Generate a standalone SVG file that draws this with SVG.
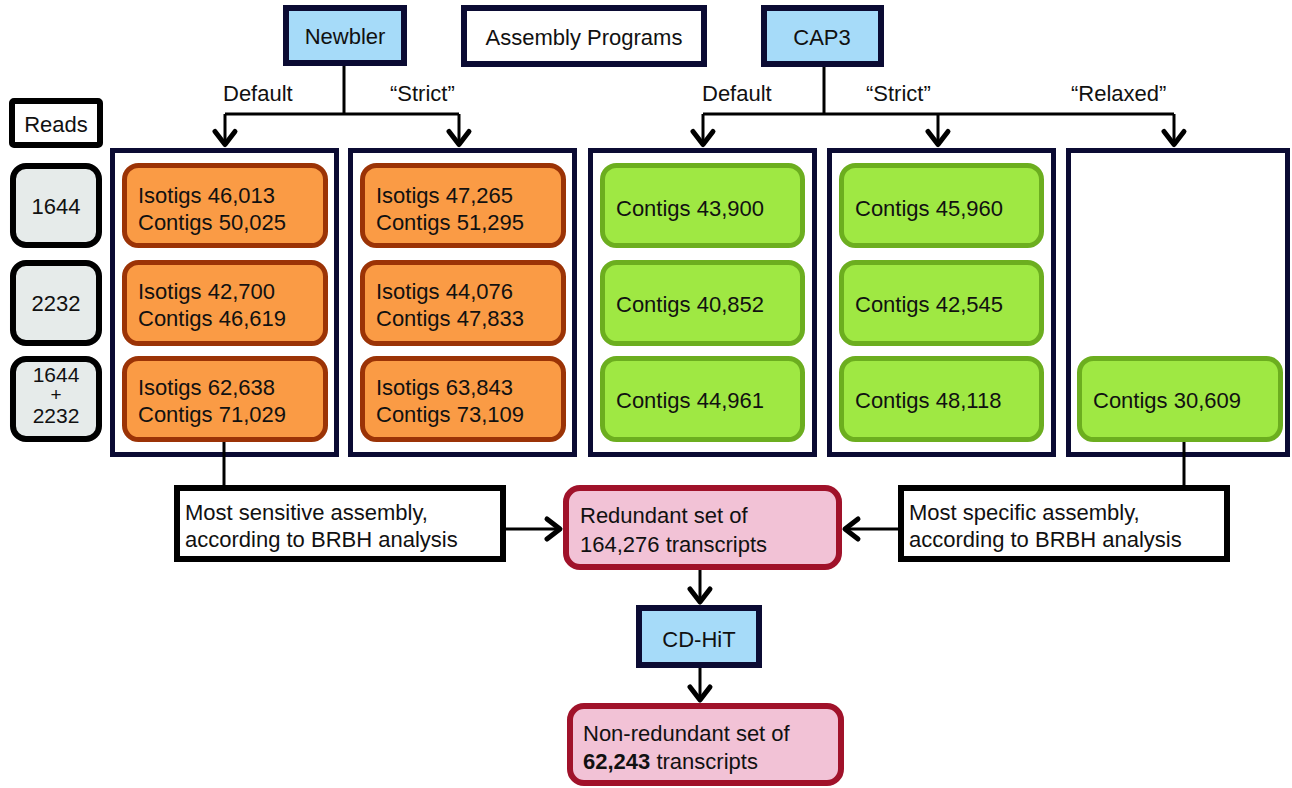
<svg xmlns="http://www.w3.org/2000/svg" width="1292" height="788" viewBox="0 0 1292 788">
<style>
text{font-family:"Liberation Sans",Arial,sans-serif;font-size:22px;fill:#111}
.prog{fill:#a6dbf9;stroke:#0b0b33;stroke-width:6}
.plain{fill:#fff;stroke:#0b0b33;stroke-width:6}
.lbl{fill:#fff;stroke:#000;stroke-width:6}
.read{fill:#e6ebea;stroke:#000;stroke-width:6}
.col{fill:#fff;stroke:#0b0b33;stroke-width:5}
.or{fill:#fa9b45;stroke:#9b3306;stroke-width:5}
.gr{fill:#9fe843;stroke:#6cae1f;stroke-width:5}
.pk{fill:#f2c2d6;stroke:#a0122a;stroke-width:6}
.c{text-anchor:middle}
.conn{fill:none;stroke:#000;stroke-width:3}
</style>
<defs>
<marker id="ah" viewBox="-18 -14 22 28" refX="0" refY="0" markerWidth="22" markerHeight="28" markerUnits="userSpaceOnUse" orient="auto">
<path d="M-13,-10 L0,0 L-13,10" fill="none" stroke="#000" stroke-width="5" stroke-linecap="round" stroke-linejoin="round"/>
</marker>
</defs>

<g id="newbler"><rect class="prog" x="286" y="8" width="118" height="55"/><text class="c" x="345" y="44">Newbler</text></g>
<g id="assembly-programs"><rect class="plain" x="464" y="8" width="240" height="56"/><text class="c" x="584" y="45">Assembly Programs</text></g>
<g id="cap3"><rect class="prog" x="764" y="8" width="117" height="56"/><text class="c" x="822" y="45">CAP3</text></g>

<g id="labels">
<text x="223" y="101">Default</text>
<text x="390" y="101">“Strict”</text>
<text x="702" y="101">Default</text>
<text x="866" y="101">“Strict”</text>
<text x="1071" y="101">“Relaxed”</text>
</g>

<g id="reads"><rect class="lbl" x="12" y="101" width="88" height="44" rx="2"/><text class="c" x="56" y="132">Reads</text></g>
<g id="r1644"><rect class="read" x="13" y="166" width="86" height="79" rx="13"/><text class="c" x="56" y="214">1644</text></g>
<g id="r2232"><rect class="read" x="13" y="263" width="86" height="80" rx="13"/><text class="c" x="56" y="311">2232</text></g>
<g id="rboth"><rect class="read" x="13" y="359" width="86" height="80" rx="13"/><text class="c" x="56" y="382" style="font-size:21px">1644</text><text class="c" x="56" y="401" style="font-size:19px">+</text><text class="c" x="56" y="423" style="font-size:21px">2232</text></g>

<g id="col-newbler-default">
<rect class="col" x="112.5" y="150.5" width="224" height="304"/>
<g id="nd1"><rect class="or" x="124.5" y="165.5" width="201" height="80" rx="14"/><text x="138" y="203">Isotigs 46,013</text><text x="138" y="230">Contigs 50,025</text></g>
<g id="nd2"><rect class="or" x="124.5" y="262.5" width="201" height="81" rx="14"/><text x="138" y="299">Isotigs 42,700</text><text x="138" y="326">Contigs 46,619</text></g>
<g id="nd3"><rect class="or" x="124.5" y="358.5" width="201" height="81" rx="14"/><text x="138" y="395">Isotigs 62,638</text><text x="138" y="422">Contigs 71,029</text></g>
</g>
<g id="col-newbler-strict">
<rect class="col" x="350.5" y="150.5" width="224" height="304"/>
<g id="ns1"><rect class="or" x="362.5" y="165.5" width="201" height="80" rx="14"/><text x="376" y="203">Isotigs 47,265</text><text x="376" y="230">Contigs 51,295</text></g>
<g id="ns2"><rect class="or" x="362.5" y="262.5" width="201" height="81" rx="14"/><text x="376" y="299">Isotigs 44,076</text><text x="376" y="326">Contigs 47,833</text></g>
<g id="ns3"><rect class="or" x="362.5" y="358.5" width="201" height="81" rx="14"/><text x="376" y="395">Isotigs 63,843</text><text x="376" y="422">Contigs 73,109</text></g>
</g>
<g id="col-cap3-default">
<rect class="col" x="590.5" y="150.5" width="224" height="304"/>
<g id="cd1"><rect class="gr" x="602.5" y="165.5" width="200" height="80" rx="14"/><text x="616" y="216">Contigs 43,900</text></g>
<g id="cd2"><rect class="gr" x="602.5" y="262.5" width="200" height="81" rx="14"/><text x="616" y="312">Contigs 40,852</text></g>
<g id="cd3"><rect class="gr" x="602.5" y="358.5" width="200" height="81" rx="14"/><text x="616" y="408">Contigs 44,961</text></g>
</g>
<g id="col-cap3-strict">
<rect class="col" x="829.5" y="150.5" width="224" height="304"/>
<g id="cs1"><rect class="gr" x="841.5" y="165.5" width="200" height="80" rx="14"/><text x="855" y="216">Contigs 45,960</text></g>
<g id="cs2"><rect class="gr" x="841.5" y="262.5" width="200" height="81" rx="14"/><text x="855" y="312">Contigs 42,545</text></g>
<g id="cs3"><rect class="gr" x="841.5" y="358.5" width="200" height="81" rx="14"/><text x="855" y="408">Contigs 48,118</text></g>
</g>
<g id="col-cap3-relaxed">
<rect class="col" x="1068.5" y="150.5" width="219" height="304"/>
<g id="cr3"><rect class="gr" x="1079.5" y="358.5" width="201" height="81" rx="14"/><text x="1093" y="408">Contigs 30,609</text></g>
</g>

<g id="sensitive"><rect class="lbl" x="177" y="488" width="326" height="71"/><text x="185" y="520">Most sensitive assembly,</text><text x="185" y="547">according to BRBH analysis</text></g>
<g id="specific"><rect class="lbl" x="901" y="488" width="326" height="71"/><text x="909" y="520">Most specific assembly,</text><text x="909" y="547">according to BRBH analysis</text></g>
<g id="redundant"><rect class="pk" x="566" y="488" width="273" height="79" rx="14"/><text x="580" y="523">Redundant set of</text><text x="580" y="552">164,276 transcripts</text></g>
<g id="cdhit"><rect class="prog" x="639" y="608" width="120" height="57"/><text class="c" x="699" y="647">CD-HiT</text></g>
<g id="nonredundant"><rect class="pk" x="570" y="706" width="271" height="77" rx="14"/><text x="583" y="741">Non-redundant set of</text><text x="583" y="769"><tspan font-weight="bold">62,243</tspan> transcripts</text></g>

<g id="connectors" class="conn">
<path d="M344,66 V114 M225,114 H459"/>
<path d="M225,114 V144.5" marker-end="url(#ah)"/>
<path d="M459,114 V144.5" marker-end="url(#ah)"/>
<path d="M824,67 V114 M703,114 H1174"/>
<path d="M703,114 V144.5" marker-end="url(#ah)"/>
<path d="M938,114 V144.5" marker-end="url(#ah)"/>
<path d="M1174,114 V144.5" marker-end="url(#ah)"/>
<path d="M224,442 V486"/>
<path d="M1184,442 V486"/>
<path d="M506,529 H560" marker-end="url(#ah)"/>
<path d="M898,529 H845" marker-end="url(#ah)"/>
<path d="M700,570 V602" marker-end="url(#ah)"/>
<path d="M700,668 V700" marker-end="url(#ah)"/>
</g>
</svg>
